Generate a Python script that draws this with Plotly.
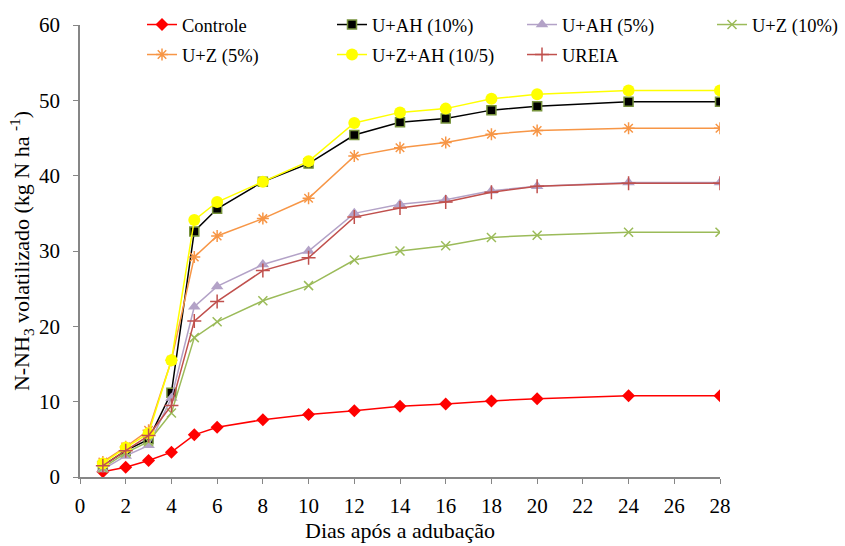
import plotly.graph_objects as go

dias = [1, 2, 3, 4, 5, 6, 8, 10, 12, 14, 16, 18, 20, 24, 28]

controle = [0.7, 1.3, 2.2, 3.3, 5.6, 6.6, 7.6, 8.3, 8.8, 9.4, 9.7, 10.1, 10.4, 10.8, 10.8]
u_ah10 = [1.5, 3.5, 5.0, 11.2, 32.6, 35.6, 39.2, 41.6, 45.4, 47.1, 47.6, 48.7, 49.2, 49.8, 49.8]
u_ah5 = [1.0, 2.8, 4.2, 10.5, 22.6, 25.3, 28.2, 30.0, 35.0, 36.2, 36.8, 38.0, 38.6, 39.1, 39.1]
u_z10 = [1.2, 3.2, 4.7, 8.5, 18.5, 20.6, 23.4, 25.4, 28.8, 30.0, 30.7, 31.8, 32.1, 32.5, 32.5]
u_z5 = [2.0, 4.0, 6.2, 15.5, 29.2, 32.0, 34.3, 37.0, 42.6, 43.7, 44.4, 45.5, 46.0, 46.3, 46.3]
u_z_ah = [1.8, 3.9, 5.8, 15.5, 34.1, 36.5, 39.2, 41.9, 47.0, 48.4, 48.9, 50.2, 50.8, 51.3, 51.3]
ureia = [1.5, 3.5, 5.5, 9.5, 20.7, 23.3, 27.4, 29.1, 34.5, 35.7, 36.5, 37.8, 38.6, 39.0, 39.0]

series = [
    ("Controle", controle, "#FF0000", dict(symbol="diamond", size=10, color="#FF0000")),
    ("U+AH (10%)", u_ah10, "#000000", dict(symbol="square", size=9, color="#000000",
                                          line=dict(color="#77933C", width=1.5))),
    ("U+AH (5%)", u_ah5, "#B3A2C7", dict(symbol="triangle-up", size=11, color="#B3A2C7")),
    ("U+Z (10%)", u_z10, "#9BBB59", dict(symbol="x-thin", size=9, color="#9BBB59",
                                         line=dict(color="#9BBB59", width=1.5))),
    ("U+Z (5%)", u_z5, "#F79646", dict(symbol="asterisk", size=10, color="#F79646",
                                       line=dict(color="#F79646", width=1.5))),
    ("U+Z+AH (10/5)", u_z_ah, "#FFFF00", dict(symbol="circle", size=12, color="#FFFF00")),
    ("UREIA", ureia, "#C0504D", dict(symbol="cross-thin", size=10, color="#C0504D",
                                     line=dict(color="#C0504D", width=1.5))),
]

# legend slots: (column, row)
slots = [(0, 0), (1, 0), (2, 0), (3, 0), (0, 1), (1, 1), (2, 1)]

L, R, T, B = 80, 125, 25, 69
W, H = 845, 546
pw, ph = W - L - R, H - T - B
col_px = [142, 332, 522, 712]
row_px = [25, 55]
FONT = "'Liberation Serif', 'DejaVu Serif', serif"

fig = go.Figure()
legends = {}
for i, ((name, vals, col, mk), (c, r)) in enumerate(zip(series, slots)):
    key = f"legend{i + 2}"
    fig.add_trace(go.Scatter(x=dias, y=vals, name=name, mode="lines+markers",
                             line=dict(color=col, width=1.5), marker=mk,
                             legend=key))
    legends[key] = dict(
        x=(col_px[c] - L) / pw, y=(H - B - row_px[r]) / ph,
        xanchor="left", yanchor="middle", orientation="h",
        font=dict(family=FONT, size=18.5, color="black"),
        bgcolor="rgba(0,0,0,0)", borderwidth=0,
    )

axis_col = "#868686"
fig.update_layout(
    width=W, height=H,
    margin=dict(l=L, r=R, t=T, b=B, autoexpand=False),
    paper_bgcolor="white", plot_bgcolor="white",
    font=dict(family=FONT, size=21, color="black"),
    xaxis=dict(range=[0, 28], dtick=2, tick0=0, showgrid=False, zeroline=False,
               showline=True, linecolor=axis_col, linewidth=1.5, ticks="outside",
               tickcolor=axis_col, ticklen=5, tickwidth=1, ticklabelstandoff=4,
               tickfont=dict(family=FONT, size=21),
               title=dict(text="Dias após a adubação", font=dict(family=FONT, size=22),
                          standoff=6)),
    yaxis=dict(range=[0, 60], dtick=10, showgrid=False, zeroline=False,
               showline=True, linecolor=axis_col, linewidth=1.5, ticks="outside",
               tickcolor=axis_col, ticklen=5, tickwidth=1, ticklabelstandoff=9,
               tickfont=dict(family=FONT, size=21),
               title=dict(text="N-NH<sub>3</sub> volatilizado (kg N ha <sup>-1</sup>)",
                          font=dict(family=FONT, size=22), standoff=3)),
    **legends,
)

fig.write_html("out.html")
